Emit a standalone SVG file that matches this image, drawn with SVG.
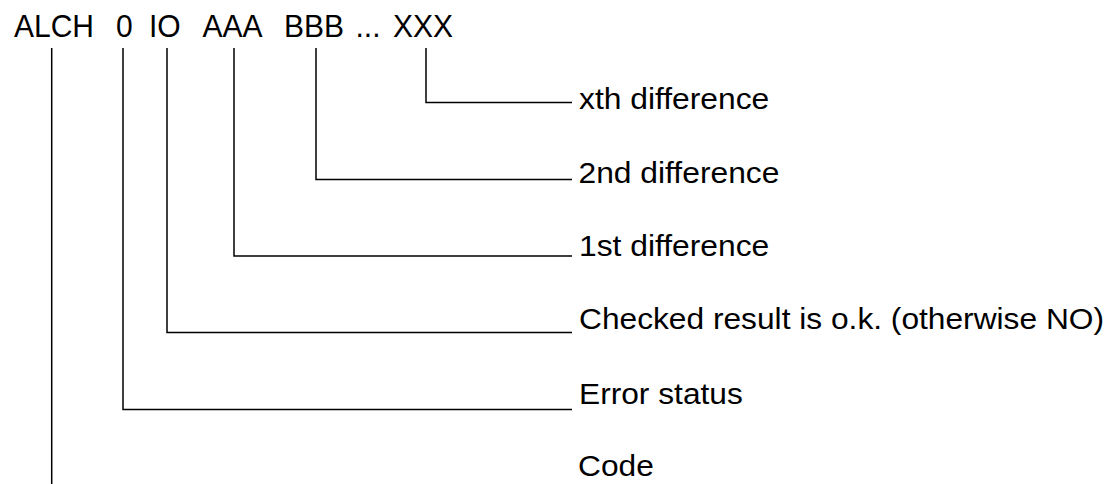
<svg xmlns="http://www.w3.org/2000/svg" width="1110" height="484" viewBox="0 0 1110 484">
<style>
text{font-family:"Liberation Sans",Arial,sans-serif;fill:#000}
.t{font-size:32px}
.l{font-size:29.5px}
.c{fill:none;stroke:#000;stroke-width:1.5}
</style>
<rect width="1110" height="484" fill="#fff"/>
<g id="title">
<text class="t" x="14" y="36.5" textLength="80" lengthAdjust="spacingAndGlyphs">ALCH</text>
<text class="t" x="116" y="36.5" textLength="16.7" lengthAdjust="spacingAndGlyphs">0</text>
<text class="t" x="149" y="36.5" textLength="31.7" lengthAdjust="spacingAndGlyphs">IO</text>
<text class="t" x="202.5" y="36.5" textLength="60" lengthAdjust="spacingAndGlyphs">AAA</text>
<text class="t" x="284" y="36.5" textLength="60" lengthAdjust="spacingAndGlyphs">BBB</text>
<text class="t" x="355.5" y="36.5" textLength="25" lengthAdjust="spacingAndGlyphs">...</text>
<text class="t" x="393" y="36.5" textLength="60" lengthAdjust="spacingAndGlyphs">XXX</text>
</g>
<g id="connectors">
<path class="c" d="M426,48V102.5H572"/>
<path class="c" d="M316,48V179.5H572"/>
<path class="c" d="M234,48V256H572"/>
<path class="c" d="M167,48V332.5H572"/>
<path class="c" d="M123,48V409.5H572"/>
<path class="c" d="M51.7,48V484"/>
</g>
<g id="label-xth"><text class="l" x="579" y="109" textLength="190.3" lengthAdjust="spacingAndGlyphs">xth difference</text></g>
<g id="label-2nd"><text class="l" x="578.5" y="182.5" textLength="200.9" lengthAdjust="spacingAndGlyphs">2nd difference</text></g>
<g id="label-1st"><text class="l" x="579" y="255.5" textLength="190.3" lengthAdjust="spacingAndGlyphs">1st difference</text></g>
<g id="label-checked"><text class="l" x="579" y="328.5" textLength="525" lengthAdjust="spacingAndGlyphs">Checked result is o.k. (otherwise NO)</text></g>
<g id="label-error"><text class="l" x="579" y="404" textLength="163.8" lengthAdjust="spacingAndGlyphs">Error status</text></g>
<g id="label-code"><text class="l" x="578" y="476" textLength="75.8" lengthAdjust="spacingAndGlyphs">Code</text></g>
</svg>
